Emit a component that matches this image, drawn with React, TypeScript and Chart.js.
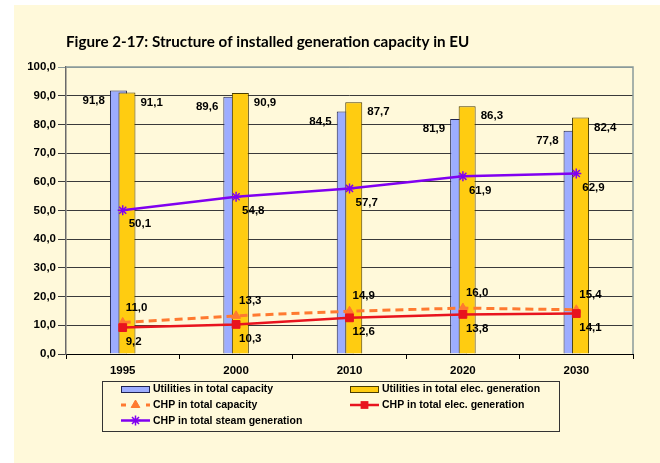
import React, { useEffect, useRef } from 'react';
import { Chart, registerables } from 'chart.js';

Chart.register(...registerables);

// ---- data ----
const years = ['1995', '2000', '2010', '2020', '2030'];
const utilitiesCapacity = [91.8, 89.6, 84.5, 81.9, 77.8];
const utilitiesElecGen = [91.1, 90.9, 87.7, 86.3, 82.4];
const chpCapacity = [11.0, 13.3, 14.9, 16.0, 15.4];
const chpElecGen = [9.2, 10.3, 12.6, 13.8, 14.1];
const chpSteamGen = [50.1, 54.8, 57.7, 61.9, 62.9];
const yTicks = [0, 10, 20, 30, 40, 50, 60, 70, 80, 90, 100];

const TITLE = 'Figure 2-17: Structure of installed generation capacity in EU';
const FONT = '"Liberation Sans", Arial, Helvetica, sans-serif';
const CREAM = '#FFF9DA';
const FRAME = '#8A9A9A';

const BLUE = '#9DADFF';
const YELLOW = '#FFCC11';
const ORANGE = '#FF7A30';
const RED = '#E8141E';
const PURPLE = '#8000F0';

const fmt = (v: number) => v.toFixed(1).replace('.', ',');

function drawMarker(ctx: CanvasRenderingContext2D, style: string, x: number, y: number, r: number, color: string, lw: number) {
  ctx.save();
  ctx.fillStyle = color;
  ctx.strokeStyle = color;
  ctx.lineWidth = lw;
  ctx.setLineDash([]);
  ctx.beginPath();
  if (style === 'triangle') {
    for (let k = 0; k < 3; k++) {
      const a = -Math.PI / 2 + (k * 2 * Math.PI) / 3;
      const px = x + Math.cos(a) * r;
      const py = y + Math.sin(a) * r;
      if (k === 0) ctx.moveTo(px, py);
      else ctx.lineTo(px, py);
    }
    ctx.closePath();
    ctx.fill();
    ctx.stroke();
  } else if (style === 'rect') {
    const s = Math.SQRT1_2 * r;
    ctx.rect(x - s, y - s, 2 * s, 2 * s);
    ctx.fill();
  } else if (style === 'star') {
    ctx.moveTo(x, y - r); ctx.lineTo(x, y + r);
    ctx.moveTo(x - r, y); ctx.lineTo(x + r, y);
    const d = r * Math.SQRT1_2;
    ctx.moveTo(x - d, y - d); ctx.lineTo(x + d, y + d);
    ctx.moveTo(x - d, y + d); ctx.lineTo(x + d, y - d);
    ctx.stroke();
  }
  ctx.restore();
}

const backgroundPlugin = {
  id: 'pageBackground',
  beforeDraw(chart: any) {
    const { ctx, width, height } = chart;
    ctx.save();
    ctx.fillStyle = '#FFFFFF';
    ctx.fillRect(0, 0, width, height);
    ctx.fillStyle = CREAM;
    ctx.fillRect(14, 5, width - 14, height - 5);
    ctx.restore();
  },
};

const framePlugin = {
  id: 'plotFrame',
  beforeDatasetsDraw(chart: any) {
    const { ctx, chartArea } = chart;
    ctx.save();
    ctx.strokeStyle = FRAME;
    ctx.lineWidth = 1.5;
    ctx.beginPath();
    ctx.moveTo(chartArea.left, chartArea.top);
    ctx.lineTo(chartArea.right, chartArea.top);
    ctx.lineTo(chartArea.right, chartArea.bottom);
    ctx.stroke();
    ctx.restore();
  },
  afterDraw(chart: any) {
    const { ctx, chartArea } = chart;
    ctx.save();
    ctx.fillStyle = '#000';
    ctx.font = `bold 15.2px Lato, "Open Sans", sans-serif`;
    ctx.textAlign = 'left';
    ctx.textBaseline = 'alphabetic';
    ctx.fillText(TITLE, chartArea.left, 47);
    ctx.restore();
  },
};

const valueLabelPlugin = {
  id: 'valueLabels',
  afterDatasetsDraw(chart: any) {
    const ctx = chart.ctx;
    ctx.save();
    ctx.font = `bold 11.5px ${FONT}`;
    ctx.fillStyle = '#000';
    ctx.textBaseline = 'middle';
    chart.data.datasets.forEach((ds: any, i: number) => {
      const spec = ds.valueLabel;
      if (!spec) return;
      const meta = chart.getDatasetMeta(i);
      meta.data.forEach((el: any, j: number) => {
        const v = ds.data[j];
        if (v == null) return;
        const text = fmt(v);
        if (spec.side === 'barLeft') {
          ctx.textAlign = 'right';
          ctx.fillText(text, el.x - el.width / 2 - spec.dx, el.y + spec.dy);
        } else if (spec.side === 'barRight') {
          ctx.textAlign = 'left';
          ctx.fillText(text, el.x + el.width / 2 + spec.dx, el.y + spec.dy);
        } else {
          ctx.textAlign = 'left';
          ctx.fillText(text, el.x + spec.dx, el.y + spec.dy);
        }
      });
    });
    ctx.restore();
  },
};

const legendPlugin = {
  id: 'boxLegend',
  afterDraw(chart: any) {
    const { ctx } = chart;
    const ds = chart.data.datasets;
    const box = { x: 102, y: 381, w: 457, h: 50 };
    ctx.save();
    ctx.fillStyle = CREAM;
    ctx.fillRect(box.x, box.y, box.w, box.h);
    ctx.strokeStyle = '#333';
    ctx.lineWidth = 1;
    ctx.strokeRect(box.x + 0.5, box.y + 0.5, box.w, box.h);

    const cols = [121, 350];
    const rows = [389, 405, 420.5];
    const symW = 29;
    const items = [
      { d: ds[0], c: 0, r: 0 },
      { d: ds[1], c: 1, r: 0 },
      { d: ds[3], c: 0, r: 1 },
      { d: ds[4], c: 1, r: 1 },
      { d: ds[5], c: 0, r: 2 },
    ];
    items.forEach(({ d, c, r }) => {
      const x0 = cols[c];
      const y = rows[r];
      if (d.type === 'bar' || !d.type) {
        ctx.fillStyle = d.backgroundColor;
        ctx.fillRect(x0, y - 3, symW, 6);
        ctx.strokeStyle = d.borderColor;
        ctx.lineWidth = 1;
        ctx.strokeRect(x0 + 0.5, y - 3 + 0.5, symW - 1, 6);
      } else {
        ctx.strokeStyle = d.borderColor;
        ctx.lineWidth = d.borderWidth;
        ctx.beginPath();
        if (d.borderDash) {
          ctx.moveTo(x0, y); ctx.lineTo(x0 + 5, y);
          ctx.moveTo(x0 + symW - 4, y); ctx.lineTo(x0 + symW, y);
        } else {
          ctx.moveTo(x0, y); ctx.lineTo(x0 + symW, y);
        }
        ctx.stroke();
        drawMarker(ctx, d.pointStyle, x0 + symW / 2, y, d.pointRadius, d.pointBackgroundColor, d.pointBorderWidth);
      }
      ctx.fillStyle = '#000';
      ctx.font = `bold 10.5px ${FONT}`;
      ctx.textAlign = 'left';
      ctx.textBaseline = 'middle';
      ctx.fillText(d.label, x0 + symW + 3, y + 0.5);
    });
    ctx.restore();
  },
};

export default function App() {
  const ref = useRef<HTMLCanvasElement | null>(null);

  useEffect(() => {
    document.body.style.margin = '0';
    const canvas = ref.current;
    if (!canvas) return;
    const chart = new Chart(canvas, {
      type: 'bar',
      data: {
        labels: years,
        datasets: [
          {
            type: 'bar',
            label: 'Utilities in total capacity',
            data: utilitiesCapacity,
            backgroundColor: BLUE,
            borderColor: '#1E2250',
            borderWidth: 1,
            stack: 'A',
            order: 3,
            categoryPercentage: 0.15,
            barPercentage: 2,
            valueLabel: { side: 'barLeft', dx: 5, dy: 10 },
          } as any,
          {
            type: 'bar',
            label: 'Utilities in total elec. generation',
            data: utilitiesElecGen,
            backgroundColor: YELLOW,
            borderColor: '#4A3C00',
            borderWidth: 1,
            stack: 'B',
            order: 2,
            categoryPercentage: 0.15,
            barPercentage: 2,
            valueLabel: { side: 'barRight', dx: 5, dy: 10 },
          } as any,
          {
            type: 'bar',
            label: '',
            data: years.map(() => null),
            backgroundColor: 'rgba(0,0,0,0)',
            borderWidth: 0,
            stack: 'A',
            order: 1,
            categoryPercentage: 0.15,
            barPercentage: 2,
          } as any,
          {
            type: 'line',
            label: 'CHP in total capacity',
            data: chpCapacity,
            borderColor: ORANGE,
            backgroundColor: ORANGE,
            borderWidth: 3,
            borderDash: [8, 5],
            pointStyle: 'triangle',
            pointRadius: 5,
            pointBackgroundColor: ORANGE,
            pointBorderColor: ORANGE,
            pointBorderWidth: 1,
            fill: false,
            tension: 0,
            order: 0,
            valueLabel: { side: 'point', dx: 3, dy: -15 },
          } as any,
          {
            type: 'line',
            label: 'CHP in total elec. generation',
            data: chpElecGen,
            borderColor: RED,
            backgroundColor: RED,
            borderWidth: 2.5,
            pointStyle: 'rect',
            pointRadius: 5.5,
            pointBackgroundColor: RED,
            pointBorderColor: RED,
            pointBorderWidth: 1,
            fill: false,
            tension: 0,
            order: -1,
            valueLabel: { side: 'point', dx: 3, dy: 14 },
          } as any,
          {
            type: 'line',
            label: 'CHP in total steam generation',
            data: chpSteamGen,
            borderColor: PURPLE,
            backgroundColor: PURPLE,
            borderWidth: 2.5,
            pointStyle: 'star',
            pointRadius: 5,
            pointBackgroundColor: PURPLE,
            pointBorderColor: PURPLE,
            pointBorderWidth: 1.5,
            fill: false,
            tension: 0,
            order: -1,
            valueLabel: { side: 'point', dx: 6, dy: 14 },
          } as any,
        ],
      },
      options: {
        responsive: false,
        animation: false,
        devicePixelRatio: 1,
        layout: { padding: { left: 0, right: 27, top: 67, bottom: 84 } },
        plugins: {
          legend: { display: false },
          title: { display: false },
          tooltip: { enabled: false },
        },
        scales: {
          x: {
            type: 'category',
            offset: true,
            grid: {
              offset: true,
              drawOnChartArea: false,
              drawTicks: true,
              tickLength: 5,
              color: '#000',
            },
            border: { color: '#000', width: 1 },
            ticks: {
              color: '#000',
              font: { family: FONT, size: 11.5, weight: 'bold' },
              padding: 5,
              maxRotation: 0,
            },
            afterFit: (scale: any) => { scale.height = 25; },
          },
          y: {
            type: 'linear',
            min: 0,
            max: 100,
            stacked: false,
            afterBuildTicks: (scale: any) => { scale.ticks = yTicks.map((v) => ({ value: v })); },
            grid: {
              color: (c: any) => (c.tick && c.tick.value === 100 ? FRAME : '#3A3A3A'),
              lineWidth: 1,
              tickLength: 8,
            },
            border: { color: '#6A6A6A', width: 1.5 },
            ticks: {
              color: '#000',
              font: { family: FONT, size: 11.5, weight: 'bold' },
              padding: 2,
              callback: (v: any) => fmt(Number(v)),
            },
            afterFit: (scale: any) => { scale.width = 66; },
          },
        },
      } as any,
      plugins: [backgroundPlugin, framePlugin, valueLabelPlugin, legendPlugin],
    });
    return () => chart.destroy();
  }, []);

  return (
    <div style={{ width: 660, height: 463, position: 'relative' }}>
      <canvas ref={ref} width={660} height={463} style={{ display: 'block' }} />
    </div>
  );
}
